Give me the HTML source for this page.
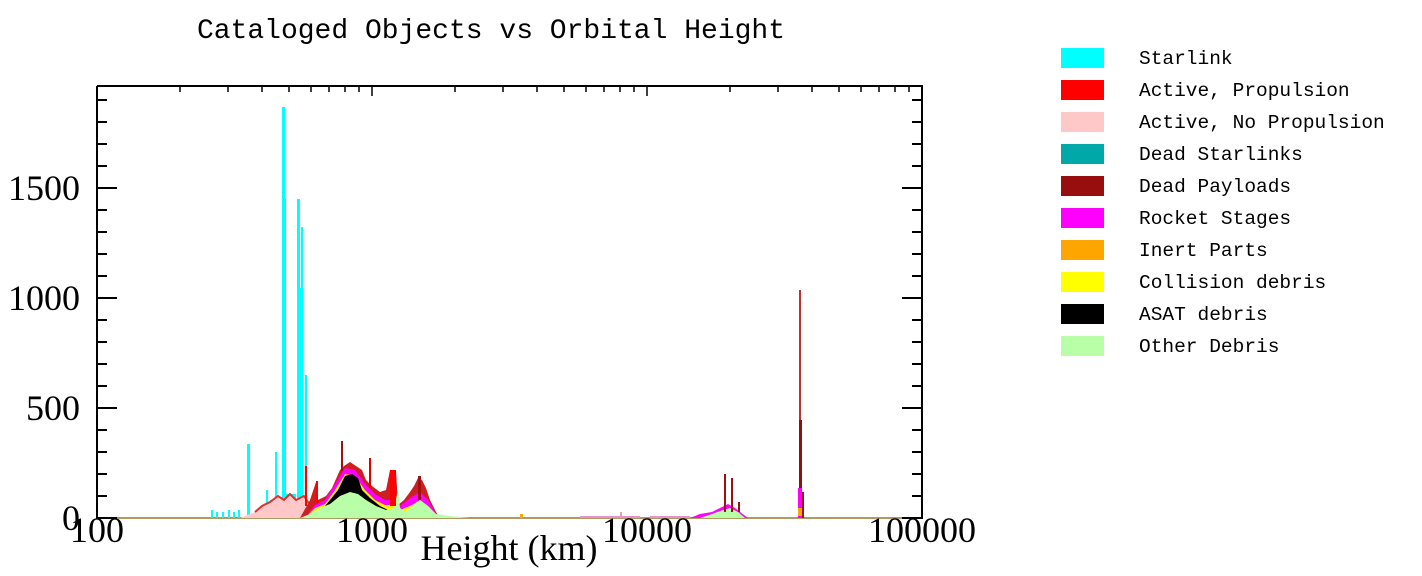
<!DOCTYPE html>
<html><head><meta charset="utf-8"><style>
body{margin:0;background:#fff;}
svg{display:block;}
.t{font-family:"Liberation Serif",serif;font-size:36px;fill:#000;}
.m{font-family:"Liberation Mono",monospace;fill:#000;}
</style></head><body>
<svg width="1422" height="576" viewBox="0 0 1422 576" xmlns="http://www.w3.org/2000/svg">
<text class="m" x="491" y="38" font-size="28" text-anchor="middle">Cataloged Objects vs Orbital Height</text>

<g>
<rect x="97" y="517" width="825" height="2" fill="#b09a60"/>
<g fill="#00ffff">
<rect x="211" y="510" width="2" height="8"/><rect x="216" y="512" width="2" height="6"/><rect x="222" y="512" width="2" height="6"/><rect x="228" y="510" width="2" height="8"/><rect x="233" y="512" width="2" height="6"/><rect x="238" y="510" width="2" height="8"/>
<rect x="247" y="444" width="3" height="74"/>
<rect x="266" y="490" width="2" height="28"/><rect x="275" y="452" width="2" height="66"/><rect x="270" y="500" width="3" height="18"/>
<rect x="282" y="107" width="3" height="411"/><rect x="282" y="198" width="4" height="320"/>
<rect x="297" y="199" width="3" height="319"/><rect x="301" y="227" width="2" height="291"/><rect x="297" y="288" width="6" height="230"/>
<rect x="305" y="375" width="2" height="143"/>
<rect x="276" y="497" width="6" height="21"/><rect x="286" y="494" width="10" height="24"/>
</g>
<polygon fill="#ffc8c8" points="240,518 255,512 262,506 270,502 278,496 284,500 290,494 296,500 304,496 310,505 318,510 322,518"/>
<polyline fill="none" stroke="#e03030" stroke-width="2" points="255,512 262,506 270,502 278,496 284,500 290,494 296,500 304,496 310,505"/>
<polygon fill="#cc2020" points="300,518 310,500 316,482 318,500 326,496 332,488 340,470 344,466 350,462 356,466 362,470 366,480 372,486 380,492 386,490 390,470 396,470 398,505 404,500 410,492 414,486 418,478 422,480 426,488 430,500 436,512 440,518"/>
<polygon fill="#ff00ff" points="305,518 315,505 325,500 335,484 345,468 355,470 365,484 375,494 385,500 395,500 400,506 410,498 420,492 428,500 435,512 440,518"/>
<polygon fill="#ffee00" points="305,518 315,508 325,504 335,490 345,474 355,476 365,490 375,500 385,505 395,505 400,510 412,505 420,500 430,508 435,515 440,518"/>
<polygon fill="#000" points="310,518 320,512 330,500 338,490 345,476 352,474 358,478 362,490 370,498 380,506 388,510 396,512 400,518"/>
<polygon fill="#b8ffa8" points="300,518 310,514 320,508 330,504 340,496 350,492 358,494 366,500 376,506 386,510 394,508 398,490 400,508 405,512 412,506 420,500 428,506 436,514 450,516 470,518"/>
<rect x="341" y="441" width="2" height="30" fill="#a01010"/>
<rect x="369" y="458" width="2" height="30" fill="#e00000"/>
<rect x="390" y="470" width="6" height="36" fill="#ff0000"/>
<rect x="305" y="466" width="2" height="40" fill="#ff0000"/>
<rect x="316" y="481" width="2" height="22" fill="#ff0000"/>
<rect x="418" y="476" width="3" height="24" fill="#a01010"/>
<polygon fill="#ff00ff" points="690,518 700,514 712,512 720,508 728,504 735,508 740,512 748,518"/>
<polygon fill="#b8ffa8" points="700,518 712,514 720,511 730,508 738,512 745,518"/>
<rect x="724" y="474" width="2" height="38" fill="#a01010"/>
<rect x="731" y="478" width="2" height="34" fill="#a01010"/>
<rect x="738" y="502" width="2" height="10" fill="#a01010"/>
<rect x="799" y="290" width="2" height="228" fill="#c03030"/>
<rect x="799" y="420" width="3" height="98" fill="#901010"/>
<rect x="798" y="488" width="4" height="30" fill="#ff00ff"/>
<rect x="798" y="508" width="4" height="8" fill="#ffa500"/>
<rect x="802" y="492" width="2" height="26" fill="#a01010"/>
<rect x="520" y="514" width="3" height="4" fill="#ffa500"/>
<rect x="620" y="512" width="2" height="6" fill="#e8a0a0"/>
<rect x="580" y="516" width="60" height="2" fill="#e890d0"/>
<rect x="650" y="516" width="40" height="2" fill="#e890d0"/>
</g>

<g stroke="#000" stroke-width="2" fill="none">
<path d="M97,86 V519 M97,86 H922 V519"/>
</g>
<g stroke="#000" stroke-width="2">
<path d="M97,518h20 M97,408h20 M97,298h20 M97,188h20
M97,496h10 M97,474h10 M97,452h10 M97,430h10
M97,386h10 M97,364h10 M97,342h10 M97,320h10
M97,276h10 M97,254h10 M97,232h10 M97,210h10
M97,166h10 M97,144h10 M97,122h10 M97,100h10"/>
<path d="M922,518h-20 M922,408h-20 M922,298h-20 M922,188h-20
M922,496h-10 M922,474h-10 M922,452h-10 M922,430h-10
M922,386h-10 M922,364h-10 M922,342h-10 M922,320h-10
M922,276h-10 M922,254h-10 M922,232h-10 M922,210h-10
M922,166h-10 M922,144h-10 M922,122h-10 M922,100h-10"/>
<path stroke-width="1.5" d="M180,86v6 M228,86v6 M262,86v6 M289,86v6 M311,86v6 M329,86v6 M345,86v6 M359,86v6 M372,86v10
M455,86v6 M503,86v6 M537,86v6 M564,86v6 M586,86v6 M604,86v6 M620,86v6 M634,86v6 M647,86v10
M730,86v6 M778,86v6 M812,86v6 M839,86v6 M861,86v6 M879,86v6 M895,86v6 M909,86v6"/>
</g>

<text class="t" x="80" y="200" text-anchor="end">1500</text>
<text class="t" x="80" y="310" text-anchor="end">1000</text>
<text class="t" x="80" y="420" text-anchor="end">500</text>
<text class="t" x="80" y="530" text-anchor="end">0</text>
<text class="t" x="97" y="542" text-anchor="middle">100</text>
<text class="t" x="372" y="542" text-anchor="middle">1000</text>
<text class="t" x="647" y="542" text-anchor="middle">10000</text>
<text class="t" x="922" y="542" text-anchor="middle">100000</text>
<text class="t" x="509" y="560" text-anchor="middle" font-size="38">Height (km)</text>

<g>
<rect x="1061" y="48" width="43" height="20" fill="#00ffff"/>
<rect x="1061" y="80" width="43" height="20" fill="#ff0000"/>
<rect x="1061" y="112" width="43" height="20" fill="#ffc8c8"/>
<rect x="1061" y="144" width="43" height="20" fill="#00a8a8"/>
<rect x="1061" y="176" width="43" height="20" fill="#980e0e"/>
<rect x="1061" y="208" width="43" height="20" fill="#ff00ff"/>
<rect x="1061" y="240" width="43" height="20" fill="#ffa500"/>
<rect x="1061" y="272" width="43" height="20" fill="#ffff00"/>
<rect x="1061" y="304" width="43" height="20" fill="#000000"/>
<rect x="1061" y="336" width="43" height="20" fill="#b8ffa8"/>
</g>
<g class="m" font-size="19.5">
<text x="1139" y="64">Starlink</text>
<text x="1139" y="96">Active, Propulsion</text>
<text x="1139" y="128">Active, No Propulsion</text>
<text x="1139" y="160">Dead Starlinks</text>
<text x="1139" y="192">Dead Payloads</text>
<text x="1139" y="224">Rocket Stages</text>
<text x="1139" y="256">Inert Parts</text>
<text x="1139" y="288">Collision debris</text>
<text x="1139" y="320">ASAT debris</text>
<text x="1139" y="352">Other Debris</text>
</g>
</svg>
</body></html>
